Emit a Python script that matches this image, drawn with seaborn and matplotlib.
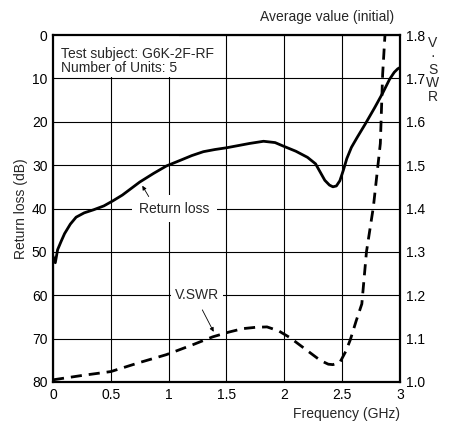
import pandas as pd
import matplotlib
matplotlib.use("Agg")
import matplotlib.pyplot as plt
from matplotlib.patches import Rectangle
import seaborn as sns

# Return loss (dB) vs frequency (GHz)
rl_freq = [0.0, 0.02, 0.04, 0.07, 0.1, 0.15, 0.2, 0.27, 0.35, 0.44, 0.52, 0.6,
           0.68, 0.75, 0.87, 0.98, 1.1, 1.2, 1.3, 1.4, 1.5, 1.6, 1.7, 1.82,
           1.92, 1.99, 2.1, 2.2, 2.27, 2.31, 2.35, 2.39, 2.42, 2.45, 2.48,
           2.51, 2.54, 2.58, 2.63, 2.7, 2.78, 2.85, 2.91, 2.95, 2.98, 3.0]
rl_db = [51.0, 52.5, 49.5, 47.6, 45.8, 43.6, 42.0, 41.0, 40.3, 39.4, 38.2, 36.9,
         35.3, 33.9, 31.9, 30.2, 28.9, 27.8, 26.9, 26.4, 26.0, 25.5, 25.0, 24.5,
         24.8, 25.6, 26.8, 28.2, 29.7, 31.6, 33.5, 34.6, 35.0, 34.8, 33.6,
         31.2, 28.5, 25.9, 23.6, 20.5, 16.8, 13.4, 10.2, 8.6, 7.8, 7.5]

# V.SWR vs frequency (GHz)
vswr_freq = [0.0, 0.25, 0.5, 0.75, 0.98, 1.2, 1.38, 1.52, 1.64, 1.75, 1.85, 1.95,
             2.05, 2.2, 2.31, 2.38, 2.42, 2.48, 2.53, 2.57, 2.62, 2.67, 2.71,
             2.77, 2.83, 2.85, 2.87]
vswr = [1.005, 1.015, 1.024, 1.045, 1.063, 1.085, 1.104, 1.115, 1.123, 1.126,
        1.127, 1.118, 1.102, 1.072, 1.050, 1.041, 1.040, 1.045, 1.070, 1.097,
        1.14, 1.18, 1.30, 1.404, 1.55, 1.71, 1.80]

x_ticks = [0, 0.5, 1, 1.5, 2, 2.5, 3]
x_labels = ["0", "0.5", "1", "1.5", "2", "2.5", "3"]
rl_ticks = [0, 10, 20, 30, 40, 50, 60, 70, 80]
vswr_ticks = [1.0, 1.1, 1.2, 1.3, 1.4, 1.5, 1.6, 1.7, 1.8]

FS = 10

sns.set_style("white")
plt.rcParams["font.family"] = ["Liberation Sans", "DejaVu Sans"]
plt.rcParams["font.size"] = FS

df_rl = pd.DataFrame({"freq": rl_freq, "rl": rl_db})
df_vs = pd.DataFrame({"freq": vswr_freq, "vswr": vswr})

fig = plt.figure(figsize=(4.56, 4.28), dpi=100)
ax = fig.add_axes([0.1162, 0.1075, 0.7610, 0.8107])

# grid + white patch behind the subject note
ax.set_axisbelow(True)
ax.grid(True, color="black", lw=0.8)
ax.add_patch(Rectangle((0.003, 0.878), 0.36, 0.12, transform=ax.transAxes,
                       fc="white", ec="none", zorder=1))

sns.lineplot(data=df_rl, x="freq", y="rl", ax=ax, color="black", lw=2.0,
             sort=False, zorder=3)
ax.set_xlim(0, 3)
ax.set_ylim(80, 0)
ax.set_xticks(x_ticks)
ax.set_xticklabels(x_labels)
ax.set_yticks(rl_ticks)
ax.tick_params(length=0, pad=4, labelsize=FS, colors="black")
ax.set_xlabel("")
ax.set_ylabel("Return loss (dB)", fontsize=FS, labelpad=3)
for s in ax.spines.values():
    s.set_color("black")
    s.set_linewidth(1.6)

ax2 = ax.twinx()
sns.lineplot(data=df_vs, x="freq", y="vswr", ax=ax2, color="black", lw=2.0,
             sort=False, zorder=3)
ax2.lines[0].set_dashes([4, 2.5])
ax2.set_ylim(1.0, 1.8)
ax2.set_yticks(vswr_ticks)
ax2.set_yticklabels([f"{v:.1f}" for v in vswr_ticks])
ax2.tick_params(length=0, pad=4, labelsize=FS, colors="black")
ax2.set_ylabel("")
for s in ax2.spines.values():
    s.set_visible(False)

# annotations
ax.text(0.07, 5.9, "Test subject: G6K-2F-RF\nNumber of Units: 5", ha="left",
        va="center", fontsize=FS, linespacing=1.0, zorder=4)
ax.text(1.05, 40, "Return loss", ha="center", va="center", fontsize=FS,
        bbox=dict(boxstyle="square,pad=0.5", fc="white", ec="none"), zorder=4)
ax.annotate("", xy=(0.76, 34.2), xytext=(0.84, 37.8),
            arrowprops=dict(arrowstyle="-|>", color="black", lw=0.6,
                            mutation_scale=6), zorder=4)
ax.text(1.245, 60, "V.SWR", ha="center", va="center", fontsize=FS,
        bbox=dict(boxstyle="square,pad=0.3", fc="white", ec="none"), zorder=4)
ax.annotate("", xy=(1.40, 69.0), xytext=(1.28, 62.8),
            arrowprops=dict(arrowstyle="-|>", color="black", lw=0.6,
                            mutation_scale=6), zorder=4)

fig.text(327 / 456, 1 - 17 / 428, "Average value (initial)", ha="center",
         va="center", fontsize=FS)
fig.text(400 / 456, 1 - 414 / 428, "Frequency (GHz)", ha="right",
         va="center", fontsize=FS)
# stacked right-axis label
fig.text(433 / 456, 1 - 36 / 428, "V\n·\nS\nW\nR", ha="center", va="top",
         fontsize=FS, linespacing=0.95, multialignment="center")

fig.savefig("out.png", dpi=100)
